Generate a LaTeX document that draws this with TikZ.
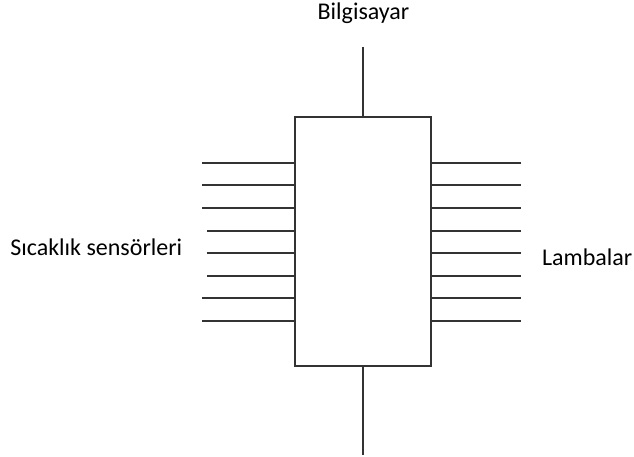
\documentclass[tikz,border=0pt]{standalone}
\usepackage{fontspec}
\setmainfont{Carlito}
\begin{document}
\begin{tikzpicture}[x=1pt,y=-1pt,
  wire/.style={line width=1.7pt,draw=black!80},
  lbl/.style={anchor=base,inner sep=0pt,font=\fontsize{24}{28}\selectfont}]
\useasboundingbox (0,0) rectangle (634,457);
\node[draw=black!80,line width=1.8pt,minimum width=135.7pt,minimum height=248.7pt,inner sep=0pt] (box) at (363,241.7) {};
\coordinate (top) at (363,47);
\coordinate (bot) at (363,455);
\draw[wire] (top) -- (box.north);
\draw[wire] (box.south) -- (bot);
\foreach \y/\x [count=\i] in {162.7/202.3,185.3/202.3,208/202.3,230.7/207,253.3/207,275.7/207,298.3/202.3,320.7/202.3}{
  \coordinate (l\i) at (\x,\y);
  \coordinate (r\i) at (521,\y);
  \draw[wire] (l\i) -- (l\i -| box.west);
  \draw[wire] (box.east |- r\i) -- (r\i);
}
\node[lbl] (pc) at (363.5,19.3) {Bilgisayar};
\node[lbl] (sens) at (96.3,255.7) {Sıcaklık sensörleri};
\node[lbl] (lamp) at (587.2,265.7) {Lambalar};
\end{tikzpicture}
\end{document}
